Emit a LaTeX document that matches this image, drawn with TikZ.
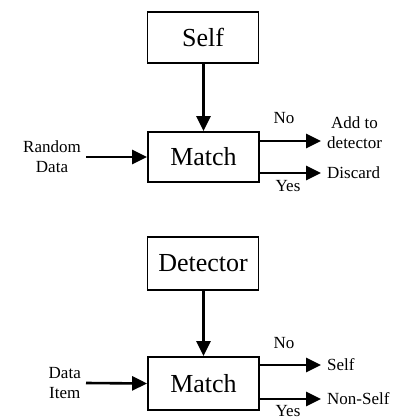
\documentclass[tikz,border=0pt]{standalone}
\usepackage{fontspec}
\setmainfont{Liberation Serif}
\usetikzlibrary{arrows.meta}
\begin{document}
\begin{tikzpicture}[x=1pt,y=-1pt,
  box/.style={draw,line width=1.8pt,minimum width=111pt,inner sep=0pt,font=\fontsize{26}{30}\selectfont},
  lbl/.style={font=\fontsize{17}{20}\selectfont,align=center,inner sep=0pt},
  arr/.style={line width=2.6pt,-{Triangle[length=15pt,width=14pt]}}]
\useasboundingbox (0,0) rectangle (401,419);
% top diagram
\node[box,minimum height=51pt] (self) at (203,37.5) {Self};
\node[box,minimum height=50pt] (match1) at (203.5,157) {Match};
\draw[arr] (self.south -| match1.north) -- (match1.north);
\node[lbl,anchor=east] (rd) at (81,157) {Random\\Data};
\draw[arr] (86,157) -- (match1.west);
\node[lbl,anchor=west] (add) at (327,133) {Add to\\detector};
\node[lbl,anchor=west] (disc) at (327,173) {Discard};
\draw[arr] (match1.east |- 0,141) -- (321,141);
\draw[arr] (match1.east |- disc.west) -- (321,173);
\node[lbl] (no1) at (284,118) {No};
\node[lbl] (yes1) at (288,186) {Yes};
% bottom diagram
\node[box,minimum height=53pt] (det) at (203,263.5) {Detector};
\node[box,minimum height=53pt] (match2) at (203.5,383.5) {Match};
\draw[arr] (det.south -| match2.north) -- (match2.north);
\node[lbl,anchor=east] (di) at (81,383) {Data\\Item};
\draw[arr] (86,383) -- (match2.west);
\node[lbl,anchor=west] (selfo) at (327,365) {Self};
\node[lbl,anchor=west] (ns) at (327,399) {Non-Self};
\draw[arr] (match2.east |- selfo.west) -- (321,365);
\draw[arr] (match2.east |- ns.west) -- (321,399);
\node[lbl] (no2) at (284,343) {No};
\node[lbl] (yes2) at (288,411) {Yes};
\end{tikzpicture}
\end{document}
